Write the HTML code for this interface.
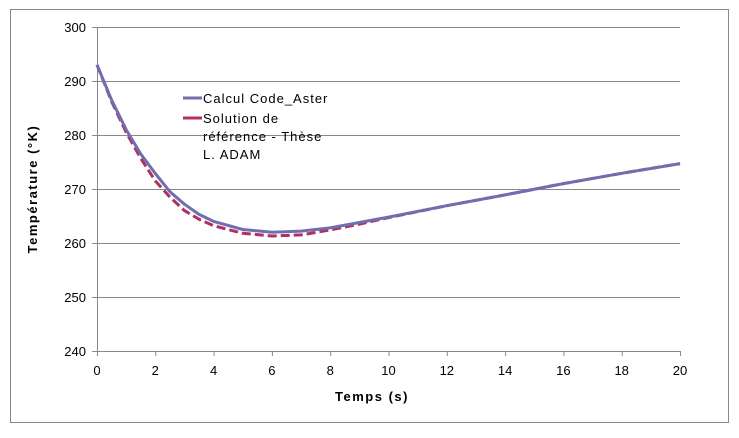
<!DOCTYPE html>
<html><head><meta charset="utf-8"><style>
body{margin:0;background:#fff;}
svg text{font-family:"Liberation Sans",sans-serif;fill:#000;}
</style></head><body>
<svg width="739" height="433" viewBox="0 0 739 433" xmlns="http://www.w3.org/2000/svg">
<rect x="10.5" y="9.5" width="718" height="413" fill="#fff" stroke="#888" stroke-width="1"/>
<g stroke="#888" stroke-width="1">
<line x1="97" y1="27.5" x2="680" y2="27.5"/>
<line x1="97" y1="81.5" x2="680" y2="81.5"/>
<line x1="97" y1="135.5" x2="680" y2="135.5"/>
<line x1="97" y1="189.5" x2="680" y2="189.5"/>
<line x1="97" y1="243.5" x2="680" y2="243.5"/>
<line x1="97" y1="297.5" x2="680" y2="297.5"/>
<line x1="92" y1="351.5" x2="680" y2="351.5"/>
<line x1="97.5" y1="27" x2="97.5" y2="356"/>
<line x1="92" y1="27.5" x2="97" y2="27.5"/><line x1="92" y1="81.5" x2="97" y2="81.5"/><line x1="92" y1="135.5" x2="97" y2="135.5"/><line x1="92" y1="189.5" x2="97" y2="189.5"/><line x1="92" y1="243.5" x2="97" y2="243.5"/><line x1="92" y1="297.5" x2="97" y2="297.5"/>
<line x1="155.8" y1="351" x2="155.8" y2="356"/><line x1="214.1" y1="351" x2="214.1" y2="356"/><line x1="272.4" y1="351" x2="272.4" y2="356"/><line x1="330.7" y1="351" x2="330.7" y2="356"/><line x1="389" y1="351" x2="389" y2="356"/><line x1="447.3" y1="351" x2="447.3" y2="356"/><line x1="505.6" y1="351" x2="505.6" y2="356"/><line x1="563.9" y1="351" x2="563.9" y2="356"/><line x1="622.2" y1="351" x2="622.2" y2="356"/><line x1="680.5" y1="351" x2="680.5" y2="356"/>
</g>
<g font-size="13" text-anchor="end">
<text x="86" y="32">300</text><text x="86" y="86">290</text><text x="86" y="140">280</text><text x="86" y="194">270</text><text x="86" y="248">260</text><text x="86" y="302">250</text><text x="86" y="356">240</text>
</g>
<g font-size="13" text-anchor="middle">
<text x="97" y="375">0</text><text x="155.3" y="375">2</text><text x="213.6" y="375">4</text><text x="271.9" y="375">6</text><text x="330.2" y="375">8</text><text x="388.5" y="375">10</text><text x="446.8" y="375">12</text><text x="505.1" y="375">14</text><text x="563.4" y="375">16</text><text x="621.7" y="375">18</text><text x="680" y="375">20</text>
</g>
<text x="372" y="401" font-size="13" font-weight="bold" text-anchor="middle" letter-spacing="1.5">Temps (s)</text>
<text transform="translate(37,189) rotate(-90)" font-size="13" font-weight="bold" text-anchor="middle" letter-spacing="1.5">Température (°K)</text>
<polyline fill="none" stroke="#b03060" stroke-width="3" stroke-dasharray="9,4" stroke-linejoin="round"
points="97,64.8 111.6,101.5 126.15,132.3 140.7,158.2 155.3,180.9 169.9,197.1 184.45,210.6 199,219.2 213.6,225.7 242.75,233.3 271.9,236 301.05,234.9 330.2,230 359.35,224.1 388.5,217.6 446.8,205.7 505.1,194.9 563.4,183.6 621.7,173.3 680,163.6"/>
<polyline fill="none" stroke="#6f6faf" stroke-width="3" stroke-linejoin="round"
points="97,64.8 111.6,99.9 126.15,129.6 140.7,153.9 155.3,173.5 169.9,191.7 184.45,204.2 199,214.4 213.6,221.4 242.75,229.5 271.9,232.2 301.05,231.1 330.2,227.9 359.35,222.5 388.5,217.1 446.8,205.7 505.1,194.9 563.4,183.6 621.7,173.3 680,163.6"/>
<line x1="183" y1="98" x2="202" y2="98" stroke="#6f6faf" stroke-width="3"/>
<line x1="183" y1="118" x2="202" y2="118" stroke="#b03060" stroke-width="3"/>
<g font-size="13" letter-spacing="1">
<text x="203" y="103">Calcul Code_Aster</text>
<text x="203" y="123">Solution de</text>
<text x="203" y="141">référence - Thèse</text>
<text x="203" y="159">L. ADAM</text>
</g>
</svg>
</body></html>
